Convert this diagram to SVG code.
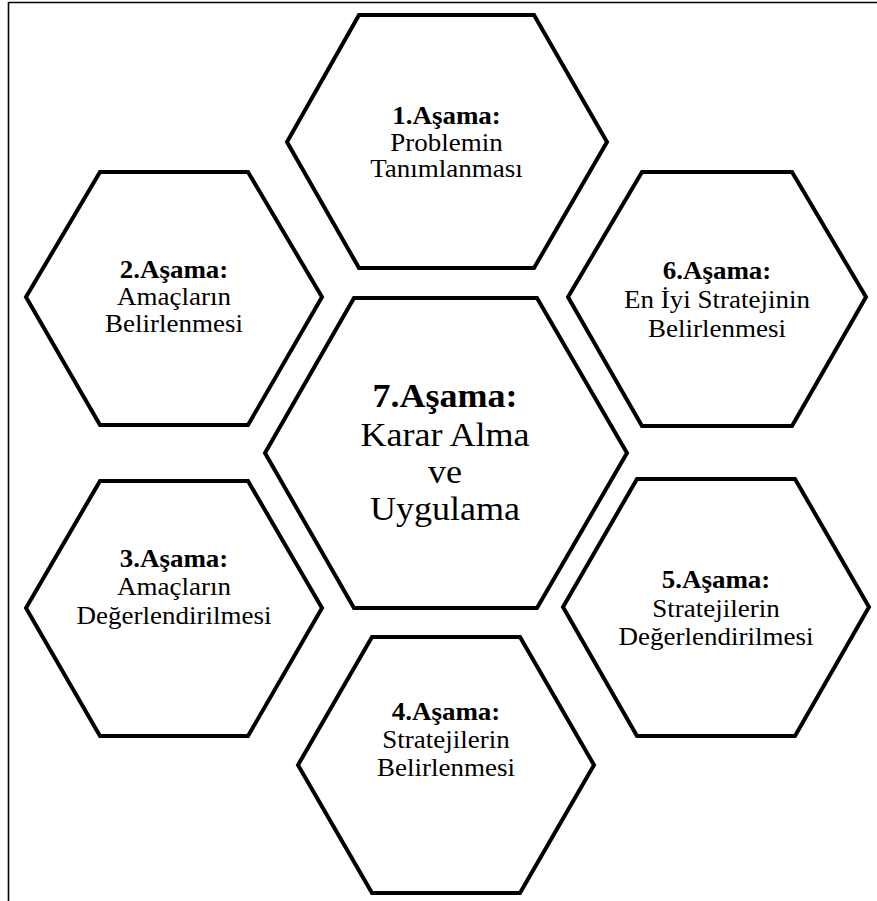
<svg xmlns="http://www.w3.org/2000/svg" width="877" height="901" viewBox="0 0 877 901">
  <style>
    .hex { fill: #ffffff; stroke: #000000; stroke-width: 4; stroke-linejoin: miter; }
    .frame { stroke: #000000; stroke-width: 1.6; fill: none; }
    text { font-family: "Liberation Serif", "Times New Roman", serif; fill: #000000; text-anchor: middle; }
    .t { font-size: 25px; }
    .tb { font-size: 25px; font-weight: bold; }
    .c { font-size: 34px; }
    .cb { font-size: 34px; font-weight: bold; }
  </style>
  <rect x="0" y="0" width="877" height="901" fill="#ffffff"/>
  <g id="frame">
    <line class="frame" x1="8.5" y1="2.5" x2="877" y2="2.5"/>
    <line class="frame" x1="8.5" y1="2" x2="8.5" y2="901"/>
  </g>
  <g id="connectors"></g>

  <g id="node1">
    <polygon class="hex" points="359,15 534,15 607,142 534,268 359,268 287,142"/>
    <g transform="translate(446.5 0) scale(1.08 1)">
      <text class="tb" x="0" y="124">1.Aşama:</text>
      <text class="t" x="0" y="151">Problemin</text>
      <text class="t" x="0" y="177">Tanımlanması</text>
    </g>
  </g>

  <g id="node2">
    <polygon class="hex" points="100,172 248,172 322,297 248,425 100,425 26,297"/>
    <g transform="translate(174 0) scale(1.08 1)">
      <text class="tb" x="0" y="278">2.Aşama:</text>
      <text class="t" x="0" y="305">Amaçların</text>
      <text class="t" x="0" y="332">Belirlenmesi</text>
    </g>
  </g>

  <g id="node6">
    <polygon class="hex" points="642,172 792,172 866,297 792,426 642,426 568,297"/>
    <g transform="translate(717 0) scale(1.08 1)">
      <text class="tb" x="0" y="279">6.Aşama:</text>
      <text class="t" x="0" y="308">En İyi Stratejinin</text>
      <text class="t" x="0" y="337">Belirlenmesi</text>
    </g>
  </g>

  <g id="node7">
    <polygon class="hex" points="354,298 537,298 627,453 537,608 354,608 265,453"/>
    <g transform="translate(445 0) scale(1.06 1)">
      <text class="cb" x="0" y="407">7.Aşama:</text>
      <text class="c" x="0" y="446">Karar Alma</text>
      <text class="c" x="0" y="483">ve</text>
      <text class="c" x="0" y="520">Uygulama</text>
    </g>
  </g>

  <g id="node3">
    <polygon class="hex" points="100,481 248,481 322,608 248,736 100,736 26,608"/>
    <g transform="translate(174 0) scale(1.08 1)">
      <text class="tb" x="0" y="567">3.Aşama:</text>
      <text class="t" x="0" y="595">Amaçların</text>
      <text class="t" x="0" y="624">Değerlendirilmesi</text>
    </g>
  </g>

  <g id="node5">
    <polygon class="hex" points="637,479 795,479 869,607 795,736 637,736 563,607"/>
    <g transform="translate(716 0) scale(1.08 1)">
      <text class="tb" x="0" y="588">5.Aşama:</text>
      <text class="t" x="0" y="617">Stratejilerin</text>
      <text class="t" x="0" y="645">Değerlendirilmesi</text>
    </g>
  </g>

  <g id="node4">
    <polygon class="hex" points="372,637 520,637 594,765 520,893 372,893 298,765"/>
    <g transform="translate(446 0) scale(1.08 1)">
      <text class="tb" x="0" y="720">4.Aşama:</text>
      <text class="t" x="0" y="748">Stratejilerin</text>
      <text class="t" x="0" y="776">Belirlenmesi</text>
    </g>
  </g>
</svg>
